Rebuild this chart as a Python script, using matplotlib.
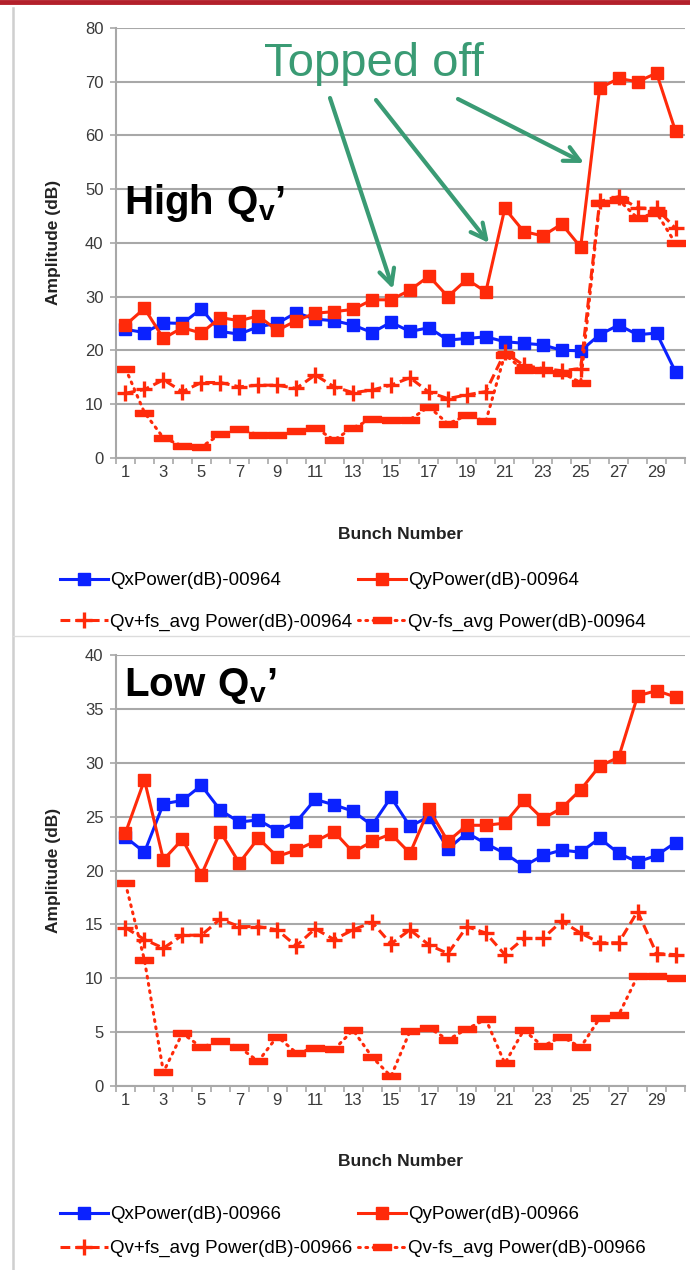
import matplotlib
matplotlib.use("Agg")
import matplotlib.pyplot as plt
from matplotlib.lines import Line2D
from matplotlib.ticker import FixedLocator, NullFormatter

plt.rcParams["font.family"] = ["Liberation Sans", "DejaVu Sans"]
plt.rcParams["mathtext.fontset"] = "custom"
plt.rcParams["mathtext.bf"] = "Liberation Sans:bold"
plt.rcParams["mathtext.rm"] = "Liberation Sans"

# ---------------------------------------------------------------------------
# Data: amplitude per bunch for two runs
# ---------------------------------------------------------------------------
bunches = list(range(1, 31))

qx_964 = [23.9, 23.3, 25.1, 25.0, 27.7, 23.5, 23.0, 24.4, 25.0, 27.0,
          25.8, 25.5, 24.7, 23.3, 25.2, 23.5, 24.2, 21.9, 22.2, 22.5,
          21.6, 21.3, 21.0, 20.0, 19.9, 22.9, 24.7, 22.9, 23.2, 16.0]
qy_964 = [24.7, 27.8, 22.2, 24.2, 23.2, 26.1, 25.5, 26.4, 23.7, 25.5,
          26.9, 27.2, 27.6, 29.4, 29.4, 31.2, 33.8, 30.0, 33.2, 30.9,
          46.4, 42.1, 41.3, 43.5, 39.2, 68.8, 70.6, 70.0, 71.6, 60.8]
qvp_964 = [12.0, 12.7, 14.5, 12.3, 14.0, 14.0, 13.2, 13.5, 13.5, 12.9,
           15.4, 13.2, 12.1, 12.6, 13.5, 14.9, 12.2, 11.0, 11.7, 12.3,
           19.6, 17.2, 16.6, 16.2, 16.6, 47.7, 48.6, 46.5, 46.4, 42.7]
qvm_964 = [16.6, 8.4, 3.7, 2.2, 2.0, 4.4, 5.3, 4.3, 4.3, 4.9,
           5.6, 3.3, 5.6, 7.2, 7.0, 7.1, 9.5, 6.3, 7.9, 6.8,
           19.2, 16.3, 16.3, 15.8, 14.0, 47.5, 48.0, 44.6, 45.6, 39.9]

qx_966 = [23.1, 21.7, 26.2, 26.5, 27.9, 25.6, 24.5, 24.7, 23.7, 24.5,
          26.6, 26.1, 25.5, 24.2, 26.8, 24.1, 25.0, 22.0, 23.5, 22.5,
          21.6, 20.4, 21.4, 21.9, 21.7, 23.0, 21.6, 20.8, 21.4, 22.6]
qy_966 = [23.5, 28.4, 21.0, 22.9, 19.6, 23.6, 20.7, 23.0, 21.3, 21.9,
          22.7, 23.6, 21.7, 22.7, 23.4, 21.6, 25.7, 22.7, 24.2, 24.2,
          24.4, 26.5, 24.8, 25.8, 27.5, 29.7, 30.5, 36.2, 36.7, 36.1]
qvp_966 = [14.7, 13.6, 12.8, 14.0, 14.0, 15.5, 14.8, 14.8, 14.5, 13.0,
           14.6, 13.6, 14.5, 15.2, 13.2, 14.5, 13.1, 12.3, 14.8, 14.2,
           12.2, 13.7, 13.7, 15.3, 14.2, 13.3, 13.3, 16.2, 12.3, 12.2]
qvm_966 = [18.8, 11.7, 1.3, 4.9, 3.6, 4.2, 3.6, 2.3, 4.6, 3.1,
           3.5, 3.4, 5.2, 2.7, 0.9, 5.1, 5.4, 4.3, 5.3, 6.2,
           2.1, 5.2, 3.7, 4.6, 3.6, 6.3, 6.6, 10.2, 10.2, 10.0]

# ---------------------------------------------------------------------------
# Styles
# ---------------------------------------------------------------------------
W, H = 690, 1270
BLUE = "#0b22ff"
RED = "#ff2a0a"
GREEN = "#3a9b74"
GRID = "#a8a8a8"
TXT = "#3a3a3a"

DASH_MARK = [(-1, -0.38), (1, -0.38), (1, 0.38), (-1, 0.38), (-1, -0.38)]


def px(x, y):
    """Pixel position (from top-left) -> figure fraction."""
    return x / W, 1 - y / H


def draw_panel(ax, qx, qy, qvp, qvm, run, ymax, ystep, xlabelpad):
    ax.plot(bunches, qx, color=BLUE, lw=2.2, marker="s", ms=8.5,
            label=f"QxPower(dB)-{run}")
    ax.plot(bunches, qy, color=RED, lw=2.2, marker="s", ms=8.5,
            label=f"QyPower(dB)-{run}")
    ax.plot(bunches, qvp, color=RED, lw=2.2, ls=(0, (3.2, 1.6)), marker="+",
            ms=11, mew=2.4, label=f"Qv+fs_avg Power(dB)-{run}")
    ax.plot(bunches, qvm, color=RED, lw=2.2, ls=(0, (0.6, 1.8)),
            dash_capstyle="round", marker=DASH_MARK, ms=12.5,
            label=f"Qv-fs_avg Power(dB)-{run}")

    ax.set_xlim(0.5, 30.5)
    ax.set_ylim(0, ymax)
    ax.set_yticks(range(0, ymax + 1, ystep))
    ax.set_xticks(range(1, 30, 2))
    ax.xaxis.set_minor_locator(FixedLocator([b + 0.5 for b in range(0, 31)]))
    ax.xaxis.set_minor_formatter(NullFormatter())
    ax.tick_params(axis="x", which="major", length=0, pad=5,
                   labelsize=12, labelcolor=TXT)
    ax.tick_params(axis="x", which="minor", length=4, width=1.2,
                   color=GRID, direction="out")
    ax.tick_params(axis="y", length=4, width=1.2, color=GRID, pad=5,
                   labelsize=12, labelcolor=TXT)
    ax.grid(axis="y", color=GRID, lw=1.5)
    ax.set_axisbelow(True)
    for side in ("top", "right"):
        ax.spines[side].set_visible(False)
    for side in ("left", "bottom"):
        ax.spines[side].set_color(GRID)
        ax.spines[side].set_linewidth(1.5)

    ax.set_xlabel("Bunch Number", fontsize=12.5, fontweight="bold",
                  color="#222222", labelpad=xlabelpad)
    ax.set_ylabel("Amplitude (dB)", fontsize=12.5, fontweight="bold",
                  color="#222222", labelpad=17)


fig = plt.figure(figsize=(W / 100, H / 100), dpi=100)

ax_top = fig.add_axes([116 / W, 1 - 457.7 / H, 569 / W, 429.7 / H])
draw_panel(ax_top, qx_964, qy_964, qvp_964, qvm_964, "00964", 80, 10, 34)

ax_bot = fig.add_axes([116 / W, 1 - 1086.1 / H, 569 / W, 431.1 / H])
draw_panel(ax_bot, qx_966, qy_966, qvp_966, qvm_966, "00966", 40, 5, 33)

# legends below each panel, two columns
for ax, top, spacing in ((ax_top, 572, 1.3), (ax_bot, 1206, 0.9)):
    h, l = ax.get_legend_handles_labels()
    order = [0, 2, 1, 3]
    fig.legend([h[i] for i in order], [l[i] for i in order],
               loc="upper left", bbox_to_anchor=px(60, top), ncol=2,
               frameon=False, fontsize=13.5, handlelength=2.55,
               handletextpad=0.12, columnspacing=0.3, labelspacing=spacing,
               borderpad=0, borderaxespad=0)

# panel titles
fig.text(*px(124, 203), r"$\mathbf{High\ Q_{v}}$’", fontsize=29,
         fontweight="bold", va="center", ha="left")
fig.text(*px(124, 686), r"$\mathbf{Low\ Q_{v}}$’", fontsize=29,
         fontweight="bold", va="center", ha="left")

# "Topped off" callout with arrows
fig.text(*px(374, 64), "Topped off", fontsize=34, color=GREEN,
         ha="center", va="center")
for start, end in (((330, 98), (393, 289)),
                   ((376, 100), (489, 243)),
                   ((458, 99), (584, 163))):
    ax_top.annotate("", xy=px(*end), xytext=px(*start),
                    xycoords="figure fraction", textcoords="figure fraction",
                    arrowprops=dict(arrowstyle="->,head_length=1.1,head_width=0.55",
                                    color=GREEN, lw=3, shrinkA=0, shrinkB=0))

# slide frame: red top bar, left border, separator between panels
fig.add_artist(Line2D([0, 1], [1 - 2 / H, 1 - 2 / H], transform=fig.transFigure,
                      color="#b3202b", lw=3.5))
fig.add_artist(Line2D([13 / W, 13 / W], [0, 1 - 8 / H], transform=fig.transFigure,
                      color="#cfcfcf", lw=1.8))
fig.add_artist(Line2D([13 / W, 1], [1 - 636 / H, 1 - 636 / H],
                      transform=fig.transFigure, color="#dcdcdc", lw=1.0))

fig.savefig("out.png", dpi=100)
